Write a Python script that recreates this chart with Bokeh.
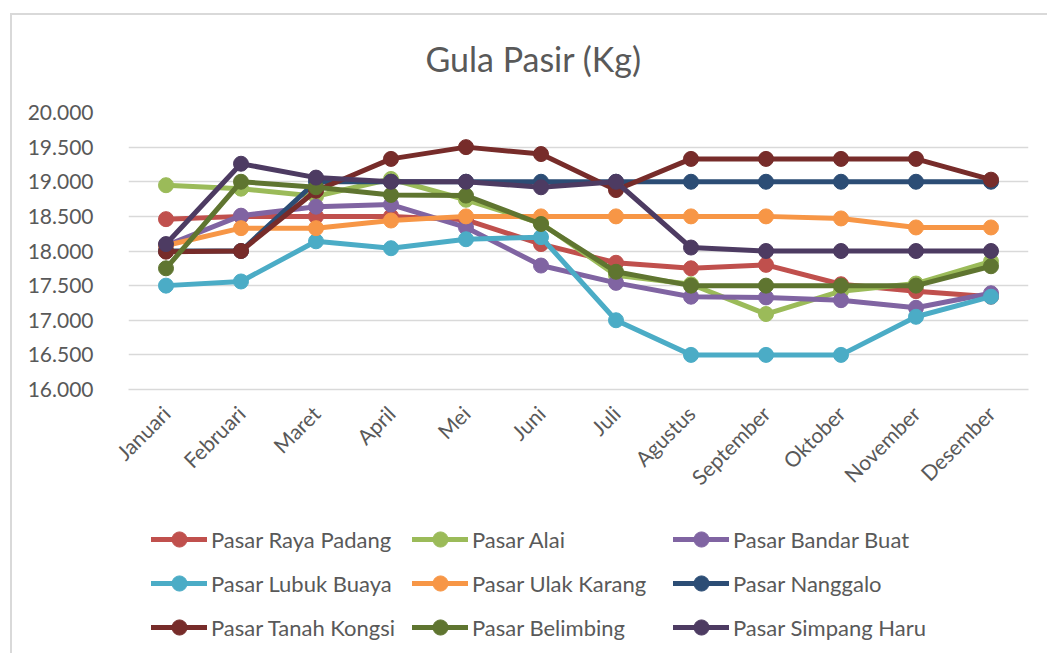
import math
from bokeh.plotting import figure
from bokeh.layouts import column
from bokeh.models import Legend, LegendItem, FixedTicker, Title
from bokeh.embed import file_html
from bokeh.resources import INLINE

months = ["Januari", "Februari", "Maret", "April", "Mei", "Juni", "Juli",
          "Agustus", "September", "Oktober", "November", "Desember"]

raya_padang = [18460, 18500, 18500, 18500, 18450, 18100, 17830, 17750, 17800, 17520, 17420, 17340]
alai = [18950, 18900, 18790, 19040, 18740, 18400, 17650, 17520, 17090, 17420, 17530, 17850]
bandar_buat = [18080, 18510, 18640, 18670, 18340, 17790, 17540, 17340, 17330, 17290, 17180, 17390]
lubuk_buaya = [17500, 17560, 18140, 18040, 18170, 18200, 17000, 16500, 16500, 16500, 17050, 17340]
ulak_karang = [18080, 18330, 18330, 18440, 18500, 18500, 18500, 18500, 18500, 18470, 18340, 18340]
nanggalo = [18000, 18000, 19000, 19000, 19000, 19000, 19000, 19000, 19000, 19000, 19000, 19000]
tanah_kongsi = [17990, 18000, 18870, 19330, 19500, 19400, 18880, 19330, 19330, 19330, 19330, 19030]
belimbing = [17750, 19000, 18920, 18810, 18800, 18390, 17700, 17500, 17500, 17500, 17500, 17780]
simpang_haru = [18100, 19260, 19060, 19000, 19000, 18920, 19000, 18050, 18000, 18000, 18000, 18000]

series_names = ["Pasar Raya Padang", "Pasar Alai", "Pasar Bandar Buat",
                "Pasar Lubuk Buaya", "Pasar Ulak Karang", "Pasar Nanggalo",
                "Pasar Tanah Kongsi", "Pasar Belimbing", "Pasar Simpang Haru"]
series_values = [raya_padang, alai, bandar_buat, lubuk_buaya, ulak_karang,
                 nanggalo, tanah_kongsi, belimbing, simpang_haru]
series_colors = ["#C0504D", "#9BBB59", "#8064A2", "#4BACC6", "#F79646",
                 "#2C4D75", "#772C2A", "#5F7530", "#4D3B62"]

y_ticks = [16000, 16500, 17000, 17500, 18000, 18500, 19000, 19500, 20000]
y_tick_labels = ["16.000", "16.500", "17.000", "17.500", "18.000",
                 "18.500", "19.000", "19.500", "20.000"]

title_text = "Gula Pasir (Kg)"

FONT = "Lato"
TXT = "#595959"
GRID = "#D9D9D9"

# main chart
p = figure(x_range=months, y_range=(16000, 20000), width=1035, height=490,
           output_backend="svg", toolbar_location=None, title=None,
           min_border_left=116, min_border_right=19,
           min_border_top=97, min_border_bottom=116)
p.outline_line_color = None
p.xgrid.grid_line_color = None
p.ygrid.grid_line_color = GRID
p.ygrid.grid_line_width = 1.3

# spacer between frame and title, then the title itself
p.add_layout(Title(text=" ", text_font_size="10px", standoff=21), "above")
p.add_layout(Title(text=title_text, align="left", offset=297, standoff=0,
                   text_font=FONT, text_font_size="34px",
                   text_font_style="normal", text_color=TXT), "above")

p.yaxis.ticker = FixedTicker(ticks=y_ticks)
p.yaxis.major_label_overrides = {t: l for t, l in zip(y_ticks, y_tick_labels)}
p.yaxis.axis_line_color = None
p.yaxis.major_tick_line_color = None
p.yaxis.minor_tick_line_color = None
p.yaxis.major_label_text_font = FONT
p.yaxis.major_label_text_font_size = "21px"
p.yaxis.major_label_text_color = TXT
p.yaxis.major_label_standoff = 29

p.xaxis.axis_line_color = GRID
p.xaxis.axis_line_width = 1.3
p.xaxis.major_tick_line_color = None
p.xaxis.minor_tick_line_color = None
p.xaxis.major_label_orientation = math.pi / 4
p.xaxis.major_label_text_font = FONT
p.xaxis.major_label_text_font_size = "21px"
p.xaxis.major_label_text_color = TXT
p.xaxis.major_label_standoff = 14

for name, vals, col in zip(series_names, series_values, series_colors):
    p.line(months, vals, line_color=col, line_width=5,
           line_join="round", line_cap="round")
    p.scatter(months, vals, size=15, fill_color=col, line_color=col)

# legend strip (its renderers are hidden; only their legend samples show)
p2 = figure(width=1035, height=148, x_range=p.x_range, y_range=p.y_range,
            output_backend="svg", toolbar_location=None,
            x_axis_location=None, y_axis_location=None,
            min_border=0, min_border_left=0, min_border_right=0,
            min_border_top=0, min_border_bottom=0)
p2.outline_line_color = None
p2.grid.grid_line_color = None

items = []
for name, vals, col in zip(series_names, series_values, series_colors):
    rl = p2.line(months, vals, line_color=col, line_width=5,
                 line_join="round", line_cap="round", visible=False)
    rs = p2.scatter(months, vals, size=15, fill_color=col, line_color=col,
                    visible=False)
    items.append(LegendItem(label=name, renderers=[rl, rs]))

leg = Legend(items=items, ncols=3, orientation="horizontal",
             location=(23, 7), padding=0, margin=0, spacing=6,
             border_line_color=None, background_fill_alpha=0,
             inactive_fill_alpha=0,
             glyph_width=56, glyph_height=38, label_height=38, label_width=195,
             label_standoff=4, label_text_font=FONT,
             label_text_font_size="22px", label_text_color=TXT)
p2.add_layout(leg)

layout = column(p, p2, spacing=0)
layout.styles = {"margin-left": "10px", "margin-top": "13px",
                 "border-left": "2px solid #D9D9D9", "border-top": "2px solid #D9D9D9"}

open("out.html", "w").write(file_html(layout, INLINE))
